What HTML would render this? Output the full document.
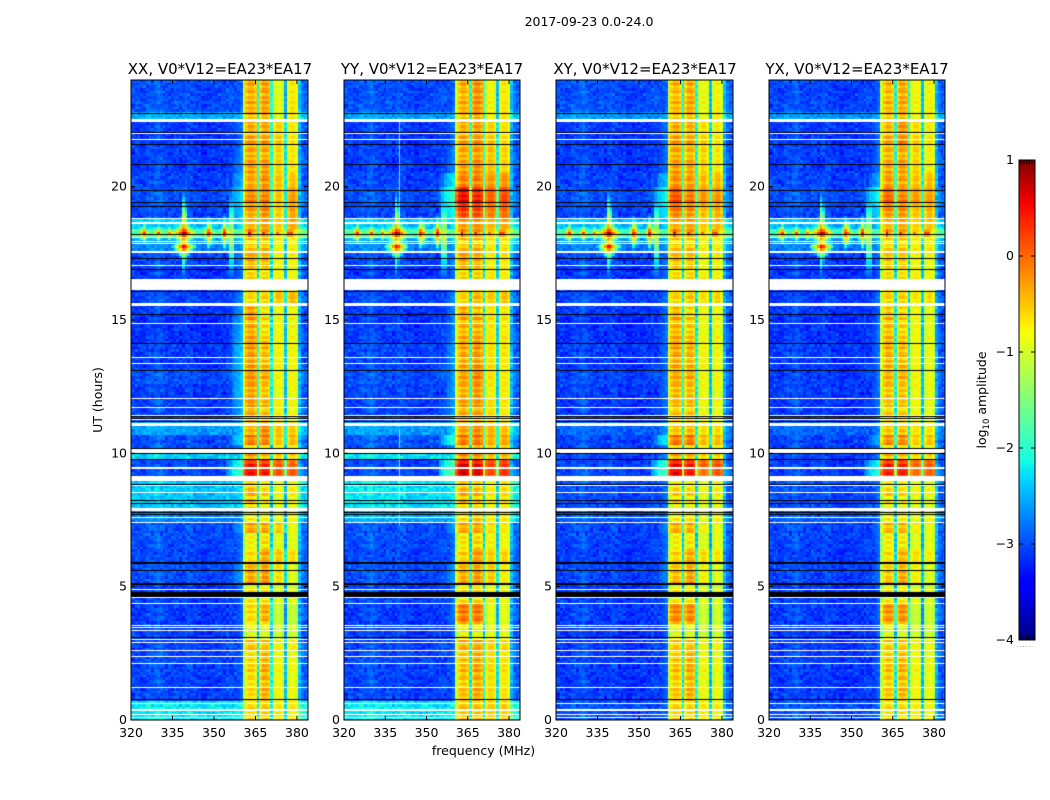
<!DOCTYPE html>
<html lang="en">
<head>
<meta charset="utf-8">
<title>2017-09-23 dynamic spectra</title>
<style>
html,body{margin:0;padding:0;background:#fff;}
#stage{position:relative;width:1050px;height:800px;overflow:hidden;background:#fff;font-family:"DejaVu Sans","Liberation Sans",sans-serif;}
canvas{position:absolute;top:80px;display:block;}
svg{position:absolute;left:0;top:0;}
text{font-family:"DejaVu Sans","Liberation Sans",sans-serif;fill:#000;}
</style>
</head>
<body>
<div id="stage">
  <canvas id="hm0" width="177" height="640" style="left:131px"></canvas>
  <canvas id="hm1" width="176" height="640" style="left:344px"></canvas>
  <canvas id="hm2" width="177" height="640" style="left:556px"></canvas>
  <canvas id="hm3" width="176" height="640" style="left:769px"></canvas>
  <svg id="overlay" width="1050" height="800" viewBox="0 0 1050 800">
    <defs>
      <linearGradient id="jetGrad" x1="0" y1="1" x2="0" y2="0">
        <stop offset="0" stop-color="#000080"/>
        <stop offset="0.11" stop-color="#0000ff"/>
        <stop offset="0.125" stop-color="#0000ff"/>
        <stop offset="0.34" stop-color="#00dbff"/>
        <stop offset="0.375" stop-color="#14ffe2"/>
        <stop offset="0.64" stop-color="#f8ff08"/>
        <stop offset="0.66" stop-color="#ffec00"/>
        <stop offset="0.89" stop-color="#ff1300"/>
        <stop offset="0.91" stop-color="#fa0000"/>
        <stop offset="1" stop-color="#800000"/>
      </linearGradient>
    </defs>
    <text x="589" y="26" text-anchor="middle" font-size="12.5">2017-09-23 0.0-24.0</text>
    <text x="220" y="74" text-anchor="middle" font-size="15">XX, V0*V12=EA23*EA17</text>
    <text x="432" y="74" text-anchor="middle" font-size="15">YY, V0*V12=EA23*EA17</text>
    <text x="645" y="74" text-anchor="middle" font-size="15">XY, V0*V12=EA23*EA17</text>
    <text x="857" y="74" text-anchor="middle" font-size="15">YX, V0*V12=EA23*EA17</text>
    <text transform="translate(102,400) rotate(-90)" text-anchor="middle" font-size="12.5">UT (hours)</text>
    <text x="483.5" y="755" text-anchor="middle" font-size="12.5">frequency (MHz)</text>
    <rect x="1019" y="160" width="16" height="480" fill="url(#jetGrad)" stroke="#000" stroke-width="1"/>
    <text transform="translate(986,400) rotate(-90)" text-anchor="middle" font-size="12.5">log<tspan font-size="8.5" dy="3">10</tspan><tspan dy="-3"> amplitude</tspan></text>
    <text x="1017" y="647" font-size="6" style="fill:#555" letter-spacing="0.9">......</text>
    <g id="axes-layer"></g>
  </svg>
</div>
<script>
/* ---------- axis data ---------- */
const panelLefts = [131, 344, 556, 769];
const panelRights = [308, 520, 733, 945];
const freqTicks = [320, 335, 350, 365, 380];
const hourTicks = [0, 5, 10, 15, 20];
const colorbarTicks = [1, 0, -1, -2, -3, -4];
const colorbarMinor = [0, 1, 2, 3, 4, 5];

/* ---------- time structure (hours) ---------- */
const segmentEdges = [0,.75,2.6,3.05,3.6,4.4,5.1,5.9,6.4,7,7.4,7.95,9,9.5,9.78,10,10.35,10.75,11.2,12,12.6,13.2,14.2,15.1,15.6,16.1,17,17.5,17.95,18.15,18.4,18.8,19.3,20,20.5,21.5,22.5,22.8,24];
const flaggedSpans = [[.06,.1],[.2,.24],[.33,.42],[.61,.65],[1.19,1.23],[2.11,2.15],[2.35,2.39],[2.6,2.64],[2.88,2.92],[2.98,3.02],[3.33,3.37],[3.46,3.5],[3.54,3.58],[4.36,4.4],[4.58,4.62],[4.86,4.9],[7.39,7.43],[7.58,7.62],[7.84,7.95],[8.52,8.56],[8.76,8.8],[8.96,9.15],[9.43,9.49],[10.02,10.16],[11.03,11.14],[11.24,11.28],[11.38,11.42],[11.69,11.73],[12.04,12.08],[13.36,13.4],[13.58,13.62],[14.85,14.89],[15.52,15.64],[16.12,16.54],[17.04,17.08],[17.52,17.6],[17.83,17.87],[17.92,17.96],[18.08,18.12],[18.59,18.67],[18.77,18.81],[21.76,21.8],[21.98,22.02],[22.45,22.55]];
const blackSpans = [[.76,.8],[3.08,3.12],[4.62,4.81],[5.06,5.15],[5.6,5.64],[5.85,5.94],[7.67,7.71],[7.75,7.79],[8.11,8.15],[8.2,8.24],[8.82,8.86],[9.75,9.79],[9.97,10.01],[10.17,10.21],[11.16,11.2],[11.3,11.34],[11.35,11.39],[13.1,13.14],[14.11,14.15],[15.17,15.21],[16.04,16.08],[16.88,16.92],[17.27,17.31],[18.17,18.21],[19.23,19.27],[19.4,19.44],[19.85,19.89],[20.82,20.86],[21.57,21.61],[22.02,22.06],[22.73,22.77]];
const yySpurSpans = [[7.3,10.9],[18.8,22.5]];
const yySpurMhz = 340;

/* ---------- per-channel shape (log10 offset, 64 channels of 1 MHz) ---------- */
const channelShape = [.05,.08,.05,0,.05,.1,.12,.1,.12,.18,.15,.12,.08,.05,.05,.08,.05,.02,.05,.08,.1,.05,0,.02,.05,0,-.02,0,.02,0,.02,.05,0,.02,.05,.05,.05,.1,.1,.15,-.55,-.15,0,0,-.15,-1.7,-.25,0,0,-.15,-1.7,-.2,0,0,-.2,-1.7,-.2,0,0,-.2,.6,.25,.15,.22];
const shoulderShape = [-.8,-.6,-.35,-.2,-.1,0];
const subbandTrim = [0,-.03,-.15,-.1];
const subbandRipple = [1.3,1.3,.6,.6];

/* ---------- background level per time segment ---------- */
const backgroundXX = [-2.2,-3,-3,-3,-3.05,-3.05,-2.95,-3,-2.95,-2.95,-2.7,-2.35,-3,-3,-2.3,-2.95,-2.95,-2.55,-3,-3.05,-2.95,-3.05,-3.1,-3.05,-3,-3.05,-3,-2.7,-2.5,-1.7,-2.3,-3,-2.95,-3,-3.05,-3.05,-2.5,-2.95];
const backgroundYY = [-2.2,-3,-3,-3,-3.05,-3,-2.95,-3,-2.95,-2.95,-2.5,-2.2,-3,-3,-2.2,-2.95,-2.9,-2.55,-3,-3,-2.95,-3,-3.05,-3.05,-3,-3.05,-3,-2.7,-2.5,-1.7,-2.3,-3,-2.95,-3,-3.05,-3.05,-2.55,-2.95];
const backgroundXY = [-2.95,-3.05,-3.05,-3.05,-3.05,-3.05,-3,-3.05,-3,-3,-2.9,-2.95,-3,-3,-3,-3,-3,-2.85,-3.05,-3.05,-3,-3.05,-3.1,-3.05,-3,-3.05,-3,-2.75,-2.55,-1.8,-2.35,-3,-2.95,-3,-3.05,-3.05,-2.6,-2.95];
const backgroundYX = [-2.95,-3.05,-3.05,-3.05,-3.05,-3.05,-3,-3.05,-3,-3,-2.9,-2.95,-3.05,-3.05,-3,-3.05,-3,-2.85,-3.05,-3.05,-3.05,-3.05,-3.1,-3.05,-3.05,-3.05,-3.05,-2.75,-2.6,-1.85,-2.4,-3,-2.95,-3,-3.05,-3.05,-2.6,-3];
const backgroundShift = -.1;

/* ---------- shoulder level just below the band ---------- */
const shoulderXX = [-2.2,-2.9,-2.9,-2.9,-2.9,-2.8,-2.6,-2.8,-2.8,-2.6,-2.6,-2.3,-1.9,-2,-2.2,-2.7,-2.3,-2.4,-2.5,-2.4,-2.4,-2.4,-2.5,-2.6,-2.7,-2.8,-2.7,-2.6,-2.3,-1.6,-2.2,-2.4,-2.3,-2.5,-2.7,-2.8,-2.5,-2.9];
const shoulderYY = [-2.2,-2.9,-2.9,-2.9,-2.8,-2.8,-2.6,-2.8,-2.8,-2.6,-2.4,-2.2,-1.7,-1.8,-2.1,-2.6,-2,-2.3,-2.6,-2.6,-2.6,-2.6,-2.7,-2.7,-2.7,-2.8,-2.7,-2.6,-2.3,-1.6,-2.2,-2.1,-1.9,-2.2,-2.7,-2.8,-2.5,-2.9];
const shoulderXY = [-2.9,-2.9,-2.9,-2.9,-2.9,-2.8,-2.7,-2.8,-2.8,-2.7,-2.8,-2.8,-1.8,-1.9,-2.6,-2.7,-2.2,-2.6,-2.8,-2.8,-2.8,-2.8,-2.8,-2.8,-2.8,-2.8,-2.8,-2.6,-2.4,-1.7,-2.3,-2.2,-2.1,-2.4,-2.8,-2.8,-2.6,-2.9];
const shoulderYX = [-2.9,-2.9,-2.9,-2.9,-2.9,-2.9,-2.8,-2.9,-2.8,-2.8,-2.8,-2.8,-2,-2.1,-2.7,-2.8,-2.5,-2.7,-2.8,-2.8,-2.8,-2.8,-2.8,-2.9,-2.8,-2.9,-2.8,-2.6,-2.4,-1.7,-2.3,-2.3,-2.1,-2.5,-2.8,-2.8,-2.6,-2.9];

/* ---------- sub-band levels [s1,s2,s3,s4] per time segment ---------- */
const bandXX = [[-.6,-.5,-.5,-.6],[-.6,-.35,-.6,-.7],[-.45,-.45,-.55,-.6],[-.8,-.8,-.8,-.85],[-.6,-.35,-.85,-.95],[-.75,-.65,-.75,-.8],[-.35,-.25,-.45,-.75],[-.65,-.3,-.35,-.5],[-.75,-.6,-.7,-.75],[-.3,-.3,-.35,-.7],[-.7,-.7,-.7,-.65],[-.45,-.6,-.65,-.6],[.45,.4,.25,.2],[.3,.3,.2,.1],[-.3,-.4,-.4,-.45],[-.5,-.55,-.5,-.55],[-.1,-.1,-.3,-.3],[-.4,-.15,-.3,-.4],[-.3,-.4,-.55,-.65],[-.3,-.45,-.65,-.7],[-.25,-.35,-.6,-.65],[-.25,-.4,-.55,-.65],[-.3,-.55,-.6,-.65],[-.3,-.7,-.6,-.65],[-.6,-.55,-.3,-.3],[-.55,-.6,-.55,-.65],[-.35,-.4,-.6,-.6],[-.5,-.4,-.6,-.6],[-.5,-.45,-.55,-.6],[-.35,-.35,-.45,-.5],[-.45,-.3,-.35,-.2],[-.3,-.15,-.35,-.2],[-.15,-.1,-.3,-.15],[-.3,-.15,-.3,-.35],[-.3,-.3,-.4,-.55],[-.3,-.25,-.35,-.55],[-.45,-.35,-.7,-.55],[-.35,-.25,-.7,-.55]];
const bandYY = [[-.45,-.45,-.35,-.4],[-.45,-.3,-.45,-.55],[-.35,-.3,-.4,-.45],[-.7,-.7,-.65,-.7],[-.05,-.05,-.7,-.75],[-.65,-.55,-.65,-.7],[-.35,-.25,-.35,-.6],[-.55,-.25,-.4,-.45],[-.65,-.55,-.55,-.65],[-.3,-.3,-.45,-.6],[-.6,-.4,-.55,-.55],[-.4,-.45,-.55,-.5],[.6,.55,.3,.4],[.5,.45,.3,.35],[-.2,-.2,-.3,-.3],[-.4,-.25,-.35,-.4],[-.05,-.05,-.2,-.2],[-.3,-.15,-.25,-.35],[-.3,-.25,-.45,-.55],[-.35,-.2,-.55,-.6],[-.3,-.15,-.5,-.6],[-.3,-.2,-.45,-.55],[-.35,-.3,-.5,-.55],[-.35,-.45,-.5,-.55],[-.55,-.4,-.35,-.35],[-.55,-.5,-.5,-.6],[-.3,-.35,-.55,-.55],[-.45,-.35,-.5,-.55],[-.45,-.4,-.5,-.5],[-.3,-.3,-.4,-.45],[-.3,-.2,-.25,-.2],[.25,.2,.05,.1],[.55,.4,.2,.3],[-.1,-.05,-.1,-.1],[-.3,-.2,-.3,-.45],[-.3,-.2,-.35,-.5],[-.45,-.3,-.6,-.55],[-.35,-.15,-.6,-.55]];
const bandXY = [[-.55,-.55,-.5,-.6],[-.5,-.35,-.6,-.7],[-.5,-.45,-.6,-.6],[-.8,-.8,-.8,-.8],[-.15,-.15,-.8,-.85],[-.75,-.7,-.75,-.8],[-.45,-.3,-.55,-.75],[-.6,-.35,-.45,-.55],[-.7,-.65,-.7,-.7],[-.35,-.35,-.55,-.7],[-.7,-.6,-.7,-.6],[-.6,-.6,-.65,-.6],[.5,.4,.1,.2],[.4,.35,.2,.2],[-.35,-.35,-.4,-.45],[-.5,-.5,-.5,-.55],[-.05,-.05,-.25,-.3],[-.5,-.4,-.45,-.5],[-.45,-.45,-.6,-.65],[-.4,-.4,-.6,-.7],[-.35,-.35,-.6,-.65],[-.3,-.35,-.55,-.65],[-.35,-.45,-.6,-.65],[-.45,-.6,-.6,-.65],[-.55,-.5,-.45,-.45],[-.6,-.55,-.55,-.6],[-.45,-.45,-.6,-.6],[-.5,-.45,-.55,-.6],[-.5,-.5,-.55,-.6],[-.35,-.35,-.45,-.5],[-.4,-.3,-.35,-.3],[-.1,-.2,-.25,-.25],[.15,-.05,-.05,-.1],[-.2,-.2,-.25,-.3],[-.3,-.35,-.4,-.55],[-.3,-.3,-.4,-.55],[-.5,-.4,-.65,-.6],[-.4,-.3,-.6,-.6]];
const bandYX = [[-.6,-.6,-.55,-.65],[-.5,-.4,-.6,-.7],[-.5,-.5,-.6,-.65],[-.8,-.85,-.8,-.85],[-.2,-.2,-.85,-.85],[-.75,-.7,-.75,-.8],[-.5,-.35,-.55,-.75],[-.65,-.4,-.5,-.6],[-.7,-.65,-.7,-.7],[-.4,-.4,-.55,-.7],[-.7,-.65,-.7,-.65],[-.6,-.65,-.65,-.65],[.35,.35,.1,.15],[.3,.3,.15,.15],[-.4,-.4,-.45,-.5],[-.55,-.5,-.5,-.6],[-.15,-.15,-.35,-.35],[-.5,-.45,-.5,-.55],[-.5,-.5,-.6,-.7],[-.45,-.45,-.6,-.7],[-.4,-.4,-.6,-.7],[-.35,-.4,-.6,-.7],[-.4,-.5,-.6,-.7],[-.5,-.6,-.6,-.7],[-.55,-.55,-.5,-.5],[-.6,-.6,-.55,-.65],[-.5,-.5,-.6,-.65],[-.55,-.5,-.55,-.6],[-.55,-.5,-.55,-.6],[-.4,-.4,-.45,-.55],[-.45,-.35,-.4,-.35],[-.2,-.2,-.3,-.3],[.05,-.1,-.1,-.15],[-.25,-.25,-.3,-.3],[-.35,-.3,-.4,-.6],[-.35,-.15,-.4,-.55],[-.5,-.4,-.65,-.6],[-.4,-.3,-.6,-.6]];

/* ---------- RFI event around 18 h ---------- */
const rfiFrequencies = [338.8,338.8,338.8,324.3,329.4,333.8,347.8,353.6,356,362.6,367.7,372.7,377];
const rfiHours = [18.25,17.75,18.25,18.25,18.25,18.25,18.25,18.25,18.2,18.25,18.25,18.25,18.25];
const rfiPeaks = [1,.7,.6,.5,.3,.2,.7,.6,-.2,.7,.6,.3,.8];
const rfiSpreadChannels = [.62,.7,1.7,1.2,1.4,1.4,1.2,1.3,1.7,1.2,1.2,1.4,1.2];
const rfiSpreadHours = [6,6,1.9,7,8,8,5,5,1.2,5,6,7,5];

/* ---------- fine texture offsets (estimated, typed by eye) ---------- */
const textureA = [.12,-.2,.05,.22,-.1,-.25,.18,0,-.15,.25,-.05,.1,-.22,.15,-.08,.2,-.18];
const textureB = [-.12,.08,.2,-.18,.03,.14,-.06,-.2,.17,-.02,.1,-.15,.06];
const rowRipple = [.12,-.1,.05,-.15,.1,.02,-.12,.15,-.05,.08,-.1];

const panelBackground = [backgroundXX, backgroundYY, backgroundXY, backgroundYX];
const panelShoulder = [shoulderXX, shoulderYY, shoulderXY, shoulderYX];
const panelBand = [bandXX, bandYY, bandXY, bandYX];

/* ---------- scales ---------- */
const plotTop = 80, plotBottom = 720, hourMax = 24, freqMin = 320, freqMax = 384;
const colorMin = -4, colorMax = 1;
const channelCount = freqMax - freqMin;
const rowHours = 0.1;
const channelOrigin = 0.4;

function xScale(panel, mhz) {
  return panelLefts[panel] + (mhz - freqMin) / (freqMax - freqMin) * (panelRights[panel] - panelLefts[panel]);
}
function yScale(hour) {
  return plotBottom - hour / hourMax * (plotBottom - plotTop);
}
function cbScale(v) {
  return 640 - (v - colorMin) / (colorMax - colorMin) * 480;
}
function clamp01(a) { return a < 0 ? 0 : a > 1 ? 1 : a; }
function jet(f) {
  const r = f < .35 ? 0 : f < .66 ? (f - .35) / .31 : f < .89 ? 1 : 1 - (f - .89) / .11 * .5;
  const g = f < .125 ? 0 : f < .375 ? (f - .125) / .25 : f < .64 ? 1 : f < .91 ? 1 - (f - .64) / .27 : 0;
  const b = f < .11 ? .5 + f / .11 * .5 : f < .34 ? 1 : f < .65 ? 1 - (f - .34) / .31 : 0;
  return 'rgb(' + Math.round(r * 255) + ',' + Math.round(g * 255) + ',' + Math.round(b * 255) + ')';
}
function segmentOf(hour) {
  for (let i = 0; i < segmentEdges.length - 1; i++) {
    if (hour < segmentEdges[i + 1]) return i;
  }
  return segmentEdges.length - 2;
}
function valueAt(panel, c, r) {
  const hour = (r + .5) * rowHours;
  const seg = segmentOf(hour);
  const jitter = textureA[(c * c + r * 7) % textureA.length] + textureB[(r * r + c * 3) % textureB.length];
  let v;
  if (c >= 40 && c < 60) {
    const sub = c <= 45 ? 0 : c <= 50 ? 1 : c <= 55 ? 2 : 3;
    v = panelBand[panel][seg][sub] + subbandTrim[sub] + channelShape[c] + rowRipple[r % rowRipple.length] * subbandRipple[sub] + jitter * .15;
  } else {
    v = panelBackground[panel][seg] + backgroundShift + channelShape[c] + jitter * .55;
    if (c >= 34 && c < 40) {
      v = Math.max(v, panelShoulder[panel][seg] + shoulderShape[c - 34] + jitter * .3);
    }
  }
  for (let i = 0; i < rfiPeaks.length; i++) {
    const dc = Math.abs(c + .5 - (rfiFrequencies[i] - freqMin));
    const dh = Math.abs(hour - rfiHours[i]);
    v = Math.max(v, rfiPeaks[i] - dc * rfiSpreadChannels[i] - dh * rfiSpreadHours[i]);
  }
  return v;
}
function drawHeatmap(panel) {
  const cv = document.getElementById('hm' + panel);
  const ctx = cv.getContext('2d');
  const w = panelRights[panel] - panelLefts[panel];
  cv.width = w;
  cv.style.width = w + 'px';
  const rows = Math.round(hourMax / rowHours);
  for (let r = 0; r < rows; r++) {
    const y1 = Math.round(yScale((r + 1) * rowHours) - plotTop);
    const y2 = Math.round(yScale(r * rowHours) - plotTop);
    for (let c = 0; c < channelCount; c++) {
      const x1 = c === 0 ? 0 : Math.round(xScale(panel, freqMin + c + channelOrigin) - panelLefts[panel]);
      const x2 = c === channelCount - 1 ? w : Math.round(xScale(panel, freqMin + c + 1 + channelOrigin) - panelLefts[panel]);
      const f = clamp01((valueAt(panel, c, r) - colorMin) / (colorMax - colorMin));
      ctx.fillStyle = jet(f);
      ctx.fillRect(x1, y1, x2 - x1, y2 - y1);
    }
  }
  function span(s, colour) {
    const top = Math.round(yScale(s[1]) - plotTop);
    const h = Math.max(1, Math.round(yScale(s[0]) - yScale(s[1])));
    ctx.fillStyle = colour;
    ctx.fillRect(0, top, w, h);
  }
  if (panel === 1) {
    const spurX = Math.round(xScale(panel, yySpurMhz) - panelLefts[panel]);
    ctx.fillStyle = 'rgba(190,240,255,.75)';
    yySpurSpans.forEach(function (s) {
      ctx.fillRect(spurX, yScale(s[1]) - plotTop, 1, yScale(s[0]) - yScale(s[1]));
    });
  }
  blackSpans.forEach(function (s) { span(s, '#000'); });
  flaggedSpans.forEach(function (s) { span(s, '#fff'); });
}

/* ---------- svg helpers ---------- */
const SVGNS = 'http://www.w3.org/2000/svg';
const layer = document.getElementById('axes-layer');
function addLine(name, x1, y1, x2, y2) {
  const el = document.createElementNS(SVGNS, 'line');
  
  
  el.setAttribute('x1', x1);
  el.setAttribute('y1', y1);
  el.setAttribute('x2', x2);
  el.setAttribute('y2', y2);
  el.setAttribute('stroke', '#000');
  el.setAttribute('stroke-width', '1');
  layer.appendChild(el);
}
function addText(name, x, y, anchor, label) {
  const el = document.createElementNS(SVGNS, 'text');
  
  
  el.setAttribute('x', x);
  el.setAttribute('y', y);
  el.setAttribute('text-anchor', anchor);
  el.setAttribute('font-size', '12.5');
  el.textContent = label;
  layer.appendChild(el);
}
function addFrame(name, x, y, w, h) {
  const el = document.createElementNS(SVGNS, 'rect');
  
  
  el.setAttribute('x', x);
  el.setAttribute('y', y);
  el.setAttribute('width', w);
  el.setAttribute('height', h);
  el.setAttribute('fill', 'none');
  el.setAttribute('stroke', '#000');
  el.setAttribute('stroke-width', '1');
  layer.appendChild(el);
}
function drawAxes(panel) {
  const left = panelLefts[panel], right = panelRights[panel];
  addFrame('panel-frame', left, plotTop, right - left, plotBottom - plotTop);
  freqTicks.forEach(function (t) {
    const x = xScale(panel, t);
    addLine('x-tick', x, plotBottom, x, plotBottom - 4);
    addLine('x-tick-top', x, plotTop, x, plotTop + 4);
    addText('x-tick-label', x, 737, 'middle', String(t));
  });
  hourTicks.forEach(function (t) {
    const y = yScale(t);
    addLine('y-tick', left, y, left + 4, y);
    addLine('y-tick-right', right, y, right - 4, y);
    addText('y-tick-label', left - 4, y + 4, 'end', String(t));
  });
}
function drawColorbarAxis() {
  colorbarTicks.forEach(function (t) {
    const y = cbScale(t);
    addLine('colorbar-tick-left', 1019, y, 1023, y);
    addLine('colorbar-tick-right', 1035, y, 1031, y);
    addText('colorbar-tick-label', 1014, y + 4, 'end', String(t).replace('-', '\u2212'));
  });
  colorbarMinor.forEach(function (t) {
    const x = 1021 + t * 2.7;
    addLine('colorbar-top-tick', x, 160, x, 164);
    addLine('colorbar-bottom-tick', x, 640, x, 636);
  });
}
for (let p = 0; p < panelLefts.length; p++) {
  drawHeatmap(p);
  drawAxes(p);
}
drawColorbarAxis();
</script>
</body>
</html>
